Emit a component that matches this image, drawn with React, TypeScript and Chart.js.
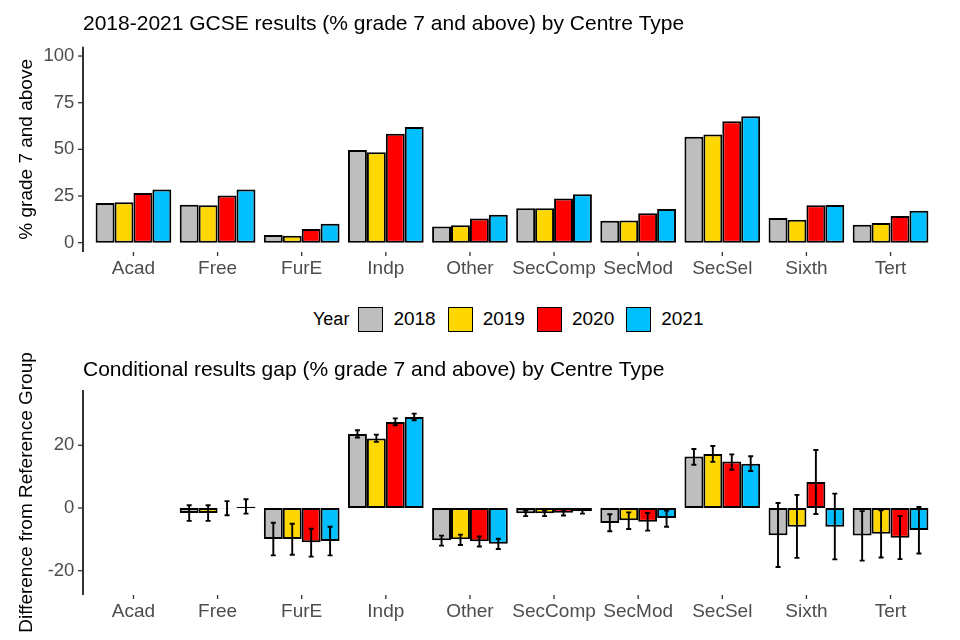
import { useEffect, useRef } from 'react';
import { Chart, registerables } from 'chart.js';

Chart.register(...registerables);

const FONT = "'Liberation Sans', Arial, Helvetica, sans-serif";

const CATEGORIES = ['Acad', 'Free', 'FurE', 'Indp', 'Other', 'SecComp', 'SecMod', 'SecSel', 'Sixth', 'Tert'];
const YEARS = ['2018', '2019', '2020', '2021'];
const COLORS = ['#BEBEBE', '#FFD700', '#FF0000', '#00BFFF'];

const TOP_TITLE = '2018-2021 GCSE results (% grade 7 and above) by Centre Type';
const TOP_Y_TITLE = '% grade 7 and above';
const GAP_TITLE = 'Conditional results gap (% grade 7 and above) by Centre Type';
const GAP_Y_TITLE = 'Difference from Reference Group';
const LEGEND_TITLE = 'Year';

const TOP_TICKS = [0, 25, 50, 75, 100];
const GAP_TICKS = [-20, 0, 20];

// % grade 7 and above
const RES_2018 = [21.2, 20.3, 4.1, 49.7, 8.6, 18.5, 11.8, 56.7, 13.2, 9.6];
const RES_2019 = [21.6, 20.0, 3.7, 48.5, 9.3, 18.5, 11.9, 57.9, 12.3, 10.5];
const RES_2020 = [26.6, 25.3, 7.3, 58.3, 13.0, 23.7, 15.7, 65.1, 20.0, 14.3];
const RES_2021 = [28.5, 28.5, 10.2, 62.0, 15.0, 26.0, 18.0, 67.7, 20.2, 17.1];

// conditional gap estimates
const GAP_2018 = [null, -1.6, -9.9, 23.6, -10.3, -1.7, -4.8, 16.4, -8.7, -8.8];
const GAP_2019 = [null, -1.6, -9.9, 22.2, -10.0, -1.7, -3.9, 17.2, -6.0, -8.2];
const GAP_2020 = [null, -0.1, -10.9, 27.4, -10.6, -1.5, -4.4, 14.8, 8.3, -9.5];
const GAP_2021 = [null, 0.4, -10.5, 29.0, -11.4, -1.0, -3.2, 14.1, -6.0, -7.0];

// error bar limits
const LOW_2018 = [null, -4.1, -15.1, 22.5, -12.0, -2.6, -7.4, 13.8, -18.8, -16.8];
const HIGH_2018 = [null, 0.9, -4.7, 24.8, -8.8, -0.8, -2.0, 18.8, 1.6, -1.0];
const LOW_2019 = [null, -4.1, -14.9, 21.1, -11.8, -2.6, -6.7, 14.7, -15.9, -15.8];
const HIGH_2019 = [null, 0.9, -5.0, 23.4, -8.5, -0.8, -1.4, 19.8, 4.2, -0.7];
const LOW_2020 = [null, -2.3, -15.5, 26.4, -12.3, -2.4, -7.2, 12.2, -1.9, -16.3];
const HIGH_2020 = [null, 2.2, -6.6, 28.6, -9.1, -0.6, -1.6, 17.1, 18.5, -2.6];
const LOW_2021 = [null, -1.8, -15.1, 28.0, -13.1, -1.8, -6.0, 11.8, -16.4, -14.5];
const HIGH_2021 = [null, 2.8, -6.0, 30.1, -9.8, -0.3, -0.85, 16.5, 4.6, 0.3];

const RES = [RES_2018, RES_2019, RES_2020, RES_2021];
const GAP = [GAP_2018, GAP_2019, GAP_2020, GAP_2021];
const LOW = [LOW_2018, LOW_2019, LOW_2020, LOW_2021];
const HIGH = [HIGH_2018, HIGH_2019, HIGH_2020, HIGH_2021];

type DecorCfg = { title: string; yTitle: string; axisX: number; titleY: number; yTitleX: number };

function decorPlugin(cfg: DecorCfg) {
  return {
    id: 'ggDecor',
    afterDraw(chart: any) {
      const { ctx, chartArea } = chart;
      const { top, bottom } = chartArea;
      const xs = chart.scales.x;
      const ys = chart.scales.y;
      ctx.save();
      // y axis line
      ctx.strokeStyle = '#000';
      ctx.lineWidth = 1.6;
      ctx.beginPath();
      ctx.moveTo(cfg.axisX, top);
      ctx.lineTo(cfg.axisX, bottom);
      ctx.stroke();
      // y tick marks
      ctx.strokeStyle = '#333';
      ctx.lineWidth = 1.3;
      ys.ticks.forEach((t: any) => {
        const py = ys.getPixelForValue(t.value);
        ctx.beginPath();
        ctx.moveTo(cfg.axisX - 5, py);
        ctx.lineTo(cfg.axisX, py);
        ctx.stroke();
      });
      // x tick marks
      chart.data.labels.forEach((_: any, i: number) => {
        const px = xs.getPixelForValue(i);
        ctx.beginPath();
        ctx.moveTo(px, bottom);
        ctx.lineTo(px, bottom + 4);
        ctx.stroke();
      });
      // title
      ctx.fillStyle = '#000';
      ctx.font = `21px ${FONT}`;
      ctx.textAlign = 'left';
      ctx.textBaseline = 'alphabetic';
      ctx.fillText(cfg.title, cfg.axisX, cfg.titleY);
      // y axis title
      ctx.translate(cfg.yTitleX, (top + bottom) / 2);
      ctx.rotate(-Math.PI / 2);
      ctx.font = `19px ${FONT}`;
      ctx.textAlign = 'center';
      ctx.textBaseline = 'middle';
      ctx.fillText(cfg.yTitle, 0, 0);
      ctx.restore();
    },
  };
}

const errorBarPlugin = {
  id: 'errorBars',
  afterDatasetsDraw(chart: any) {
    const { ctx } = chart;
    const ys = chart.scales.y;
    ctx.save();
    ctx.strokeStyle = '#000';
    ctx.lineWidth = 1.9;
    chart.data.datasets.forEach((_: any, i: number) => {
      const meta = chart.getDatasetMeta(i);
      meta.data.forEach((bar: any, j: number) => {
        const lo = LOW[i][j];
        const hi = HIGH[i][j];
        if (lo == null || hi == null) return;
        const x = bar.x;
        const yl = ys.getPixelForValue(lo);
        const yh = ys.getPixelForValue(hi);
        ctx.beginPath();
        ctx.moveTo(x, yl);
        ctx.lineTo(x, yh);
        ctx.moveTo(x - 2.5, yl);
        ctx.lineTo(x + 2.5, yl);
        ctx.moveTo(x - 2.5, yh);
        ctx.lineTo(x + 2.5, yh);
        ctx.stroke();
      });
    });
    ctx.restore();
  },
};

function makeDatasets(values: (number | null)[][]) {
  return YEARS.map((y, i) => ({
    label: y,
    data: values[i],
    backgroundColor: COLORS[i],
    borderColor: '#000',
    borderWidth: 2,
    borderSkipped: false as const,
    categoryPercentage: 0.9,
    barPercentage: 1,
  }));
}

function makeScales(min: number, max: number, ticks: number[], xHeight: number) {
  return {
    x: {
      type: 'category' as const,
      offset: true,
      grid: { display: false, drawTicks: false },
      border: { display: false },
      ticks: {
        color: '#4D4D4D',
        font: { family: FONT, size: 19 },
        padding: 5,
        maxRotation: 0,
        minRotation: 0,
        autoSkip: false,
      },
      afterFit: (s: any) => {
        s.height = xHeight;
      },
    },
    y: {
      type: 'linear' as const,
      min,
      max,
      grid: { display: false, drawTicks: false },
      border: { display: false },
      ticks: {
        color: '#4D4D4D',
        font: { family: FONT, size: 18.5 },
        padding: 17,
      },
      afterBuildTicks: (s: any) => {
        s.ticks = ticks.map((v) => ({ value: v }));
      },
      afterFit: (s: any) => {
        s.width = 91.4;
      },
    },
  };
}

export default function App() {
  const topRef = useRef<HTMLCanvasElement | null>(null);
  const gapRef = useRef<HTMLCanvasElement | null>(null);

  useEffect(() => {
    if (!topRef.current || !gapRef.current) return;
    const topChart = new Chart(topRef.current, {
      type: 'bar',
      data: { labels: CATEGORIES, datasets: makeDatasets(RES) as any },
      options: {
        responsive: false,
        animation: false,
        layout: { padding: { top: 46.7, right: 27.4, bottom: 0, left: 0 } },
        plugins: { legend: { display: false }, tooltip: { enabled: false }, title: { display: false } },
        scales: makeScales(-5, 105, TOP_TICKS, 38) as any,
      },
      plugins: [decorPlugin({ title: TOP_TITLE, yTitle: TOP_Y_TITLE, axisX: 83, titleY: 29.5, yTitleX: 27 })],
    });
    const gapChart = new Chart(gapRef.current, {
      type: 'bar',
      data: { labels: CATEGORIES, datasets: makeDatasets(GAP) as any },
      options: {
        responsive: false,
        animation: false,
        layout: { padding: { top: 50, right: 27.4, bottom: 0, left: 0 } },
        plugins: { legend: { display: false }, tooltip: { enabled: false }, title: { display: false } },
        scales: makeScales(-27.75, 37.64, GAP_TICKS, 45) as any,
      },
      plugins: [errorBarPlugin, decorPlugin({ title: GAP_TITLE, yTitle: GAP_Y_TITLE, axisX: 83, titleY: 35.5, yTitleX: 26.5 })],
    });
    return () => {
      topChart.destroy();
      gapChart.destroy();
    };
  }, []);

  return (
    <div style={{ position: 'absolute', left: 0, top: 0, width: 960, height: 640, background: '#fff', overflow: 'hidden', fontFamily: FONT }}>
      <canvas ref={topRef} width={960} height={290} style={{ position: 'absolute', left: 0, top: 0, width: 960, height: 290 }} />
      <div
        style={{
          position: 'absolute',
          left: 313,
          top: 306,
          height: 26,
          display: 'flex',
          alignItems: 'center',
          fontSize: 19,
          color: '#000',
          whiteSpace: 'nowrap',
        }}
      >
        <span style={{ fontSize: 18, marginRight: 9 }}>{LEGEND_TITLE}</span>
        {YEARS.map((y, i) => (
          <div key={y} style={{ display: 'flex', alignItems: 'center', marginRight: 12 }}>
            <span style={{ display: 'inline-block', width: 23, height: 23, background: COLORS[i], border: '1.5px solid #000' }} />
            <span style={{ marginLeft: 10 }}>{y}</span>
          </div>
        ))}
      </div>
      <canvas ref={gapRef} width={960} height={300} style={{ position: 'absolute', left: 0, top: 340, width: 960, height: 300 }} />
    </div>
  );
}
